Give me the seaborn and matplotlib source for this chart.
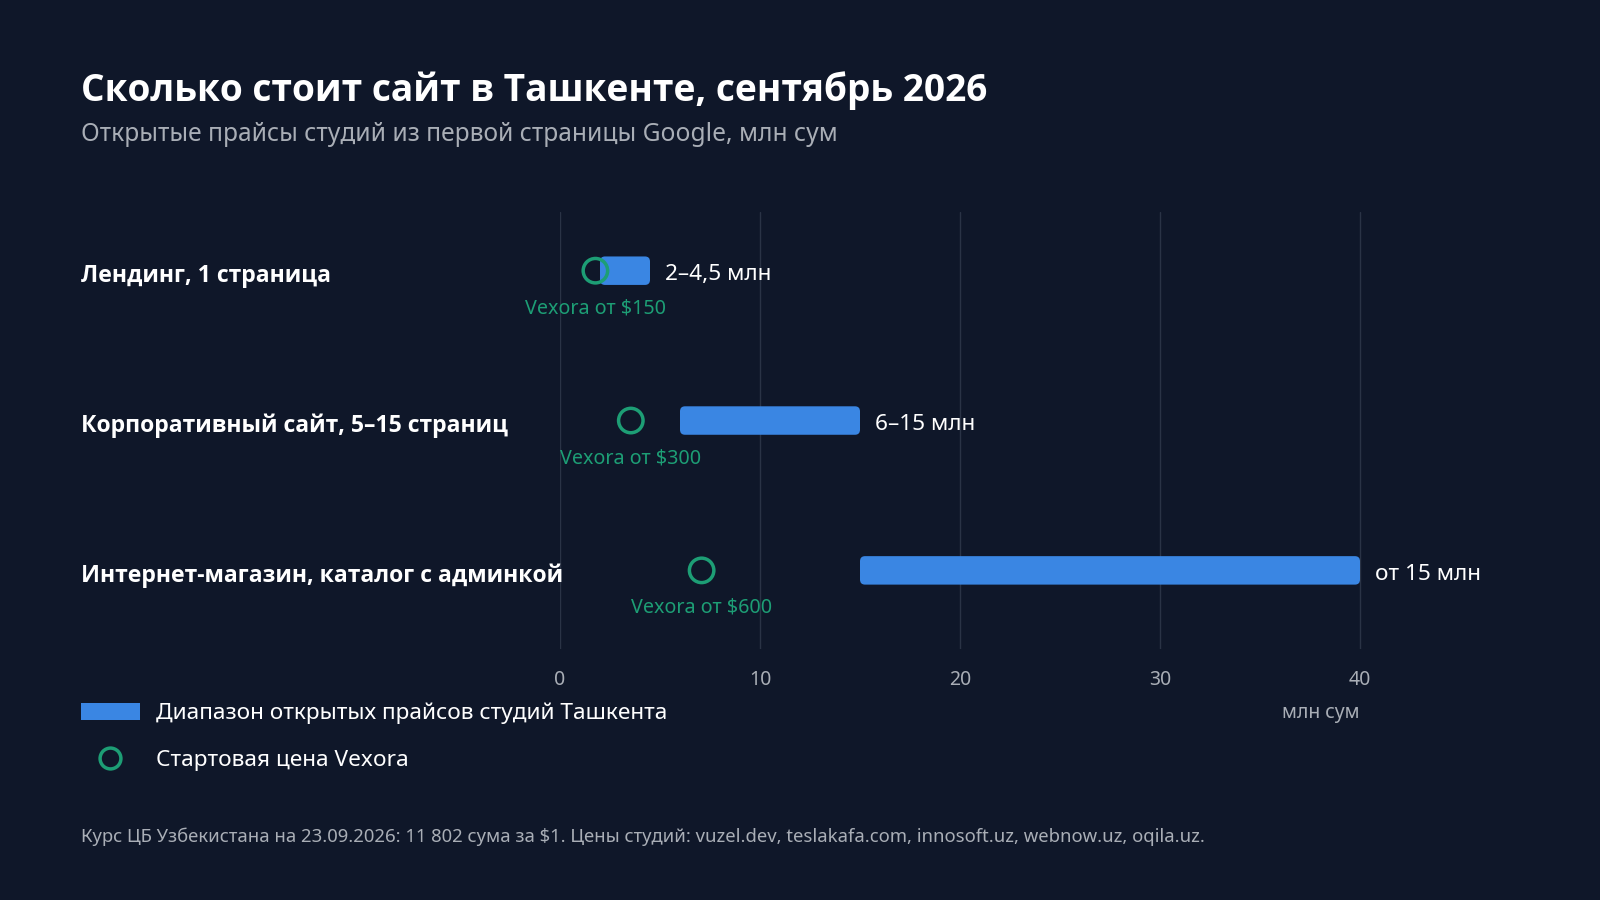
import numpy as np
import matplotlib
matplotlib.use("Agg")
import matplotlib.pyplot as plt
import matplotlib.transforms as mtransforms
from matplotlib.patches import FancyBboxPatch, Patch
from matplotlib.lines import Line2D
import seaborn as sns

# --- data ---
categories = ["Лендинг, 1 страница",
              "Корпоративный сайт, 5–15 страниц",
              "Интернет-магазин, каталог с админкой"]
range_low = [2, 6, 15]          # млн сум
range_high = [4.5, 15, 40]      # млн сум
range_labels = ["2–4,5 млн", "6–15 млн", "от 15 млн"]
vexora_usd = [150, 300, 600]
usd_rate = 11802                # сум за $1
x_ticks = [0, 10, 20, 30, 40]

vexora_mln = [usd * usd_rate / 1e6 for usd in vexora_usd]
vexora_labels = [f"Vexora от ${usd}" for usd in vexora_usd]

# --- colours ---
BG = "#0f1729"
BLUE = "#3a86e3"
GREEN = "#1d9e75"
GRID = "#2a3345"
WHITE = "#ffffff"
GRAY = "#a9aeb6"
BOLD_FONT = ["Open Sans", "DejaVu Sans"]

sns.set_theme(style="white", rc={
    "figure.facecolor": BG, "axes.facecolor": BG, "savefig.facecolor": BG,
    "text.color": WHITE, "axes.labelcolor": GRAY,
    "xtick.color": GRAY, "ytick.color": GRAY,
})
plt.rcParams["font.family"] = ["Noto Sans", "DejaVu Sans"]

fig = plt.figure(figsize=(16, 9), dpi=100)
ax = fig.add_axes([0.350, 0.279, 0.600, 0.486])

# range bars: draw with seaborn, then move start to range_low and round the corners
sns.barplot(x=range_high, y=categories, orient="h", color=BLUE,
            width=0.19, saturation=1, ax=ax)
bar_patches = list(ax.patches)
for patch, lo, hi in zip(bar_patches, range_low, range_high):
    y0 = patch.get_y()
    h = patch.get_height()
    patch.remove()
    ax.add_patch(FancyBboxPatch((lo, y0), hi - lo, h,
                                boxstyle="round,pad=0,rounding_size=0.25",
                                mutation_aspect=0.136,
                                facecolor=BLUE, edgecolor="none", zorder=2))

y_pos = np.arange(len(categories))
sns.scatterplot(x=vexora_mln, y=y_pos, marker="o", s=310,
                facecolor="none", edgecolor=GREEN, linewidth=2.5,
                zorder=4, ax=ax)

# labels
for yi, hi, lab in zip(y_pos, range_high, range_labels):
    ax.annotate(lab, (hi, yi), xytext=(11, -1.2), textcoords="offset points",
                ha="left", va="center_baseline", fontsize=16.3, color=WHITE)
for yi, xv, lab in zip(y_pos, vexora_mln, vexora_labels):
    ax.annotate(lab, (xv, yi), xytext=(0, -27), textcoords="offset points",
                ha="center", va="center", fontsize=14.2, color=GREEN)

trans = mtransforms.blended_transform_factory(fig.transFigure, ax.transData)
for yi, cat in zip(y_pos, categories):
    ax.annotate(cat, (0.0504, yi), xycoords=trans, xytext=(0, -1.5),
                textcoords="offset points", ha="left", va="center_baseline",
                fontsize=16.6, fontweight="bold", color=WHITE, family=BOLD_FONT)

# axes
ax.set_xlim(0, 48)
ax.set_ylim(2.524, -0.395)
ax.set_xticks(x_ticks)
ax.set_yticks([])
ax.set_ylabel("")
ax.set_xlabel("")
ax.tick_params(axis="x", length=0, pad=15, labelsize=14, colors=GRAY)
ax.grid(axis="x", color=GRID, linewidth=1)
ax.grid(axis="y", visible=False)
ax.set_axisbelow(True)
for s in ax.spines.values():
    s.set_visible(False)
ax.annotate("млн сум", (40, 0), xycoords=("data", "axes fraction"),
            xytext=(0, -39), textcoords="offset points",
            ha="right", va="top", fontsize=14, color=GRAY)

# legend
handles = [Patch(facecolor=BLUE, edgecolor="none"),
           Line2D([], [], marker="o", linestyle="none", markersize=15,
                  markerfacecolor="none", markeredgecolor=GREEN,
                  markeredgewidth=2.5)]
leg = fig.legend(handles,
                 ["Диапазон открытых прайсов студий Ташкента",
                  "Стартовая цена Vexora"],
                 loc="upper left", bbox_to_anchor=(0.0504, 0.219),
                 frameon=False, fontsize=16.3, handlelength=2.6,
                 handleheight=0.78, handletextpad=0.72, labelspacing=1.12,
                 borderpad=0, borderaxespad=0, labelcolor=WHITE)

# titles and footnote
fig.text(0.0504, 0.888, "Сколько стоит сайт в Ташкенте, сентябрь 2026",
         ha="left", va="baseline", fontsize=26.7, fontweight="bold", color=WHITE,
         family=BOLD_FONT)
fig.text(0.0504, 0.843, "Открытые прайсы студий из первой страницы Google, млн сум",
         ha="left", va="baseline", fontsize=17.7, color=GRAY)
fig.text(0.0504, 0.064,
         "Курс ЦБ Узбекистана на 23.09.2026: 11 802 сума за $1. "
         "Цены студий: vuzel.dev, teslakafa.com, innosoft.uz, webnow.uz, oqila.uz.",
         ha="left", va="baseline", fontsize=13.3, color=GRAY)

fig.savefig("out.png", dpi=100, facecolor=BG)
